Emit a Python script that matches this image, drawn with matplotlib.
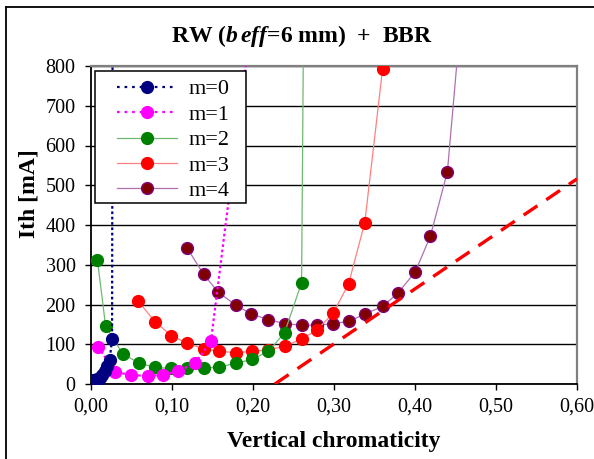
import matplotlib
matplotlib.use("Agg")
import matplotlib.pyplot as plt
from matplotlib.ticker import FuncFormatter, MultipleLocator
from matplotlib.lines import Line2D
from matplotlib.patches import Rectangle

plt.rcParams['font.family'] = ['Liberation Serif', 'DejaVu Serif']
plt.rcParams['mathtext.fontset'] = 'custom'
plt.rcParams['mathtext.rm'] = 'Liberation Serif:bold'
plt.rcParams['mathtext.it'] = 'Liberation Serif:italic:bold'
plt.rcParams['mathtext.bf'] = 'Liberation Serif:bold'

# data (last point of each rising branch lies off-chart)
m0_x = [0.000, 0.004, 0.008, 0.011, 0.014, 0.017, 0.020, 0.023, 0.026, 0.028]
m0_y = [10, 10, 12, 15, 22, 32, 46, 60, 113, 2500]

m1_x = [0.009, 0.030, 0.049, 0.070, 0.089, 0.108, 0.129, 0.148, 0.197]
m1_y = [93, 30, 23, 20, 23, 32, 54, 107, 900]

m2_x = [0.008, 0.018, 0.039, 0.059, 0.079, 0.099, 0.119, 0.139, 0.158,
        0.179, 0.199, 0.219, 0.239, 0.260, 0.280]
m2_y = [311, 146, 76, 53, 42, 39, 39, 39, 43, 52, 62, 82, 129, 255, 5700]

m3_x = [0.058, 0.079, 0.099, 0.119, 0.139, 0.158, 0.179, 0.199, 0.219,
        0.239, 0.260, 0.279, 0.299, 0.318, 0.338, 0.360]
m3_y = [209, 157, 122, 102, 89, 82, 79, 82, 86, 95, 113, 136, 178, 252, 406, 793]

m4_x = [0.119, 0.139, 0.157, 0.179, 0.198, 0.219, 0.239, 0.260, 0.279,
        0.299, 0.319, 0.338, 0.360, 0.379, 0.400, 0.419, 0.440, 0.460]
m4_y = [341, 276, 231, 198, 176, 162, 152, 148, 148, 152, 158, 176, 195,
        229, 281, 372, 534, 1000]

bbr_x = [0.227, 0.600]
bbr_y = [0, 516]

labels = ["m=0", "m=1", "m=2", "m=3", "m=4"]

fig = plt.figure(figsize=(5.94, 4.59), dpi=100)
ax = fig.add_axes([91/594, 1-384/459, 486/594, 318/459])

ms = 8.5
ax.plot(m4_x, m4_y, color='#b070b0', lw=0.9, marker='o', ms=ms,
        mfc='#800000', mec='#800080', mew=1.0, zorder=3)
ax.plot(m3_x, m3_y, color='#ff8080', lw=0.9, marker='o', ms=ms,
        mfc='#ff0000', mec='#ff0000', zorder=4)
ax.plot(m2_x, m2_y, color='#70b870', lw=0.9, marker='o', ms=ms,
        mfc='#008000', mec='#008000', zorder=5)
ax.plot(m1_x, m1_y, color='#ff00ff', lw=1.6, ls=(0, (1.2, 1.2)), marker='o', ms=ms,
        mfc='#ff00ff', mec='#ff00ff', zorder=6)
ax.plot(m0_x, m0_y, color='#000080', lw=1.6, ls=(0, (1.2, 1.2)), marker='o', ms=ms,
        mfc='#000080', mec='#000080', zorder=7)
ax.plot(bbr_x, bbr_y, color='#ff0000', lw=2.4, ls=(0, (5, 3.2)), zorder=8)

ax.set_xlim(0, 0.6)
ax.set_ylim(0, 800)
ax.xaxis.set_major_locator(MultipleLocator(0.1))
ax.yaxis.set_major_locator(MultipleLocator(100))
ax.xaxis.set_major_formatter(FuncFormatter(lambda v, p: f"{v:.2f}".replace('.', ',')))
ax.yaxis.set_major_formatter(FuncFormatter(lambda v, p: f"{v:.0f}"))
ax.tick_params(axis='both', direction='out', length=4.5, width=1.0,
               labelsize=14.5, colors='black')
ax.tick_params(axis='y', pad=6.5)
ax.tick_params(axis='x', pad=5)
ax.grid(axis='y', color='black', lw=1.0)
ax.set_axisbelow(True)

for s in ['left', 'bottom']:
    ax.spines[s].set_color('black')
    ax.spines[s].set_linewidth(1.3)
for s in ['top', 'right']:
    ax.spines[s].set_color('#808080')
    ax.spines[s].set_linewidth(1.6)

# legend handles
handles = [
    Line2D([], [], color='#000080', lw=1.6, ls=(0, (1.2, 2.2)), marker='o', ms=ms,
           mfc='#000080', mec='#000080'),
    Line2D([], [], color='#ff00ff', lw=1.6, ls=(0, (1.2, 2.2)), marker='o', ms=ms,
           mfc='#ff00ff', mec='#ff00ff'),
    Line2D([], [], color='#70b870', lw=0.9, marker='o', ms=ms,
           mfc='#008000', mec='#008000'),
    Line2D([], [], color='#ff8080', lw=0.9, marker='o', ms=ms,
           mfc='#ff0000', mec='#ff0000'),
    Line2D([], [], color='#b070b0', lw=0.9, marker='o', ms=ms,
           mfc='#800000', mec='#800080'),
]
# legend frame drawn separately so its padding matches the original box
ax.add_patch(Rectangle((4/486, 181/318), 151/486, 132/318, transform=ax.transAxes,
                       facecolor='white', edgecolor='black', lw=1.1,
                       clip_on=False, zorder=19))
leg = ax.legend(handles, labels, loc='upper left', bbox_to_anchor=(18.5/486, 0.984),
                borderaxespad=0, fontsize=16, handlelength=2.7, handletextpad=0.5,
                labelspacing=0.22, borderpad=0.35, frameon=False)
leg.set_zorder(20)

fig.text(302/594, 1-36/459, r"RW ($b\,eff$=6 mm)  +  BBR", ha='center', va='center',
         fontsize=17, fontweight='bold')
fig.text(334/594, 1-441/459, "Vertical chromaticity", ha='center', va='center',
         fontsize=17, fontweight='bold')
fig.text(29/594, 1-194/459, "Ith [mA]", ha='center', va='center', rotation=90,
         fontsize=17, fontweight='bold')

# chart area border (left and top edges visible)
fig.add_artist(Line2D([6/594, 6/594], [0, 1-7/459], color='black', lw=1.3))
fig.add_artist(Line2D([6/594, 1], [1-7/459, 1-7/459], color='black', lw=1.3))

fig.savefig("out.png", dpi=100)
